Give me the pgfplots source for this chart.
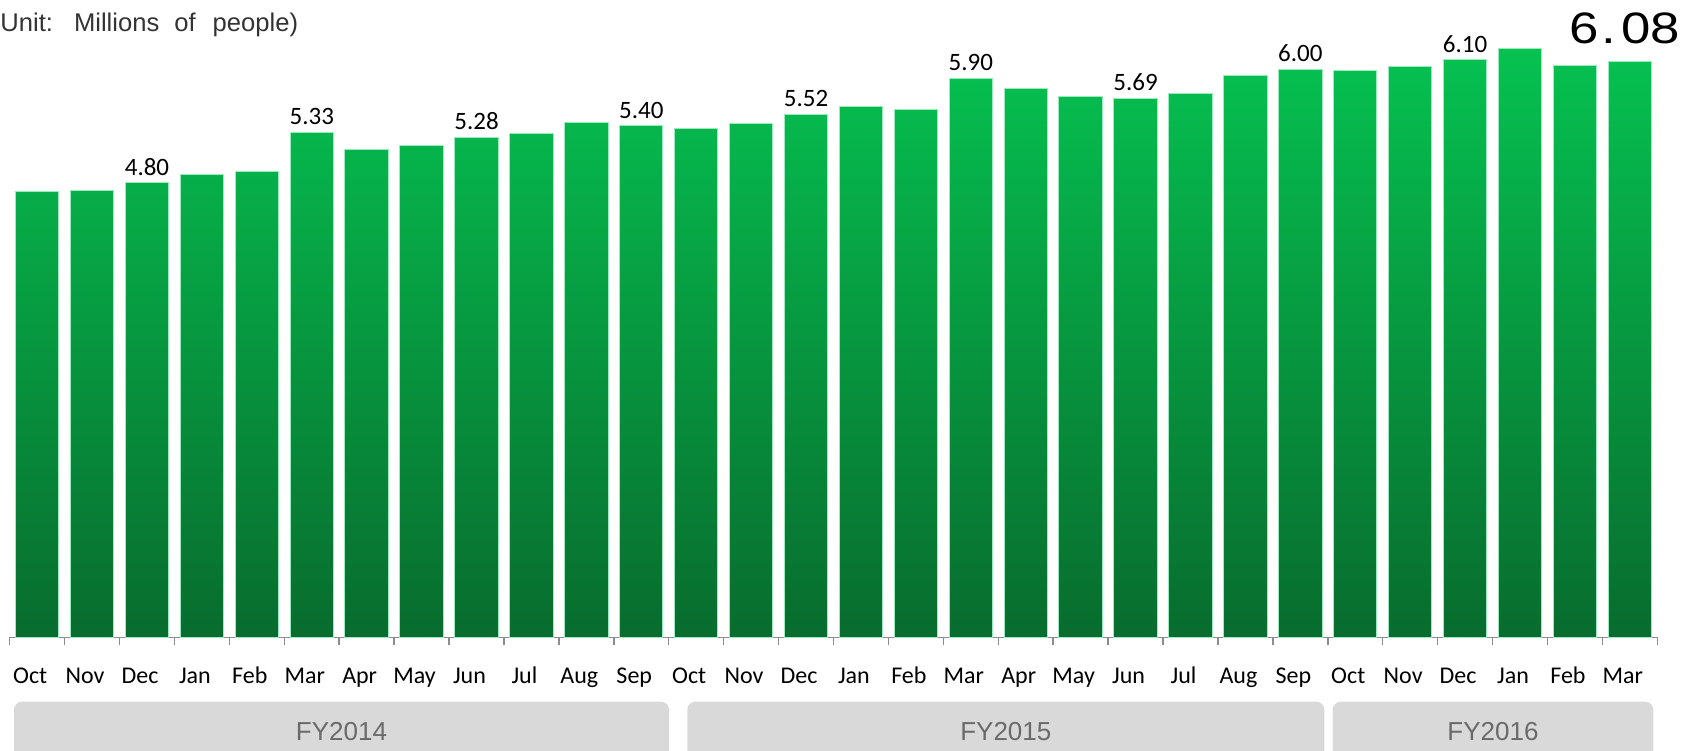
\documentclass[border=0pt]{standalone}
\usepackage{fontspec}
\setmainfont{Liberation Sans}
\newfontfamily\carlito{Carlito}
\newfontfamily\bigfont{Liberation Sans}
\usepackage{graphicx}
\usepackage{pgfplots}
\pgfplotsset{compat=1.18}
\definecolor{barTop}{HTML}{06C251}
\definecolor{barBot}{HTML}{086C2E}
\definecolor{barEdge}{HTML}{9BEBBE}
\definecolor{axisgray}{HTML}{8C8C8C}
\definecolor{boxgray}{HTML}{D9D9D9}
\definecolor{fytext}{HTML}{6A6A6A}
\definecolor{unittext}{HTML}{333333}
\begin{document}
\begin{tikzpicture}
\useasboundingbox (0pt,0pt) rectangle (845pt,-375pt);
\begin{axis}[
  at={(4.85pt,-318.65pt)}, anchor=south west,
  scale only axis, width=823.8pt, height=307.8pt,
  xmin=-0.5, xmax=29.5, ymin=0, ymax=6.5,
  enlargelimits=false, clip=false,
  axis x line*=bottom, hide y axis,
  x axis line style={draw=axisgray, line width=0.75pt, -},
  xtick={0,...,29},
  xticklabels={Oct,Nov,Dec,Jan,Feb,Mar,Apr,May,Jun,Jul,Aug,Sep,Oct,Nov,Dec,Jan,Feb,Mar,Apr,May,Jun,Jul,Aug,Sep,Oct,Nov,Dec,Jan,Feb,Mar},
  major tick length=0pt,
  minor xtick={-0.5,0.5,...,29.5},
  minor tick length=4pt,
  tick align=outside,
  minor x tick style={draw=axisgray, line width=0.75pt},
  xticklabel style={font=\carlito\fontsize{12}{12}\selectfont, anchor=base, yshift=-23pt, xshift=-3.5pt, inner sep=0pt},
]
\addplot[ybar, bar width=0.79, bar shift=0pt, top color=barTop, bottom color=barBot, draw=barEdge, line width=0.5pt]
  table {
x y
0 4.71
1 4.72
2 4.80
3 4.89
4 4.92
5 5.33
6 5.15
7 5.19
8 5.28
9 5.32
10 5.44
11 5.40
12 5.37
13 5.43
14 5.52
15 5.60
16 5.57
17 5.90
18 5.80
19 5.71
20 5.69
21 5.74
22 5.93
23 6.00
24 5.99
25 6.03
26 6.10
27 6.22
28 6.04
29 6.08
};
\addplot[ybar, bar width=0.79, bar shift=0pt, draw=none, fill=none,
  nodes near coords={\pgfmathprintnumber[assume math mode=true,fixed,fixed zerofill,precision=2]{\pgfplotspointmeta}},
  every node near coord/.append style={font=\carlito\fontsize{12.5}{12.5}\selectfont, inner sep=0pt, yshift=3.5pt, text=black}]
  table {
x y
2 4.80
5 5.33
8 5.28
11 5.40
14 5.52
17 5.90
20 5.69
23 6.00
26 6.10
};
\addplot[ybar, bar width=0.79, bar shift=0pt, draw=none, fill=none,
  nodes near coords={\scalebox{1.2}[1]{\bigfont\fontsize{22}{22}\selectfont 6\kern1.25pt.\kern2.1pt0\kern0pt8}},
  every node near coord/.append style={inner sep=0pt, yshift=8.5pt, xshift=-2.5pt, text=black}]
  coordinates {(29,6.08)};
\end{axis}
% unit caption
\node[anchor=base west, inner sep=0pt, text=unittext, font=\fontsize{12.8}{13}\selectfont] at (0pt,-15.5pt)
  {Unit:\hspace{10.5pt}Millions\hspace{7.5pt}of\hspace{8.5pt}people)};
% fiscal-year boxes
\fill[boxgray, rounded corners=4pt] (7pt,-350.85pt) rectangle (334.5pt,-385pt);
\fill[boxgray, rounded corners=4pt] (343.65pt,-350.85pt) rectangle (662.15pt,-385pt);
\fill[boxgray, rounded corners=4pt] (666.35pt,-350.85pt) rectangle (826.65pt,-385pt);
\node[anchor=base, inner sep=0pt, text=fytext, font=\fontsize{13}{13}\selectfont] at (170.75pt,-370pt) {FY2014};
\node[anchor=base, inner sep=0pt, text=fytext, font=\fontsize{13}{13}\selectfont] at (502.9pt,-370pt) {FY2015};
\node[anchor=base, inner sep=0pt, text=fytext, font=\fontsize{13}{13}\selectfont] at (746.5pt,-370pt) {FY2016};
\end{tikzpicture}
\end{document}
